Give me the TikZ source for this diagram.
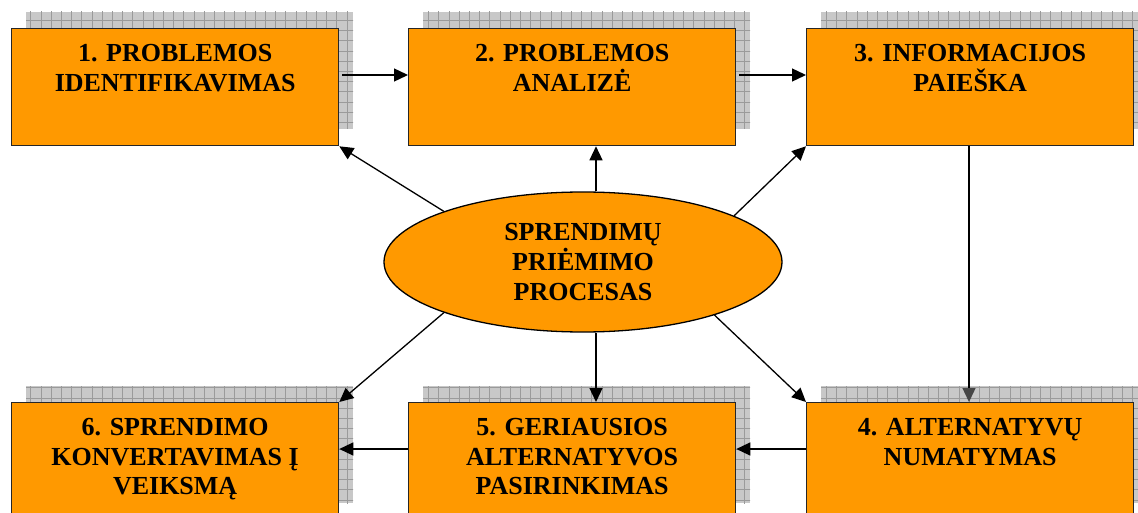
\documentclass[tikz,border=0pt]{standalone}
\usepackage{fontspec}
\setmainfont{Liberation Serif}
\usetikzlibrary{arrows.meta,shapes.geometric}
\definecolor{boxorange}{HTML}{FF9900}
\definecolor{shadefill}{HTML}{C8C8C8}
\definecolor{shadeline}{HTML}{9A9A9A}
\newcommand\gridshadow[2]{%
  \begin{scope}
    \clip (#1+15,#2-16) rectangle (#1+342,#2+101);
    \fill[shadefill] (#1+15,#2-16) rectangle (#1+342,#2+101);
    \draw[shadeline, line width=0.6pt, step=10.2pt] (#1+10,#2-20) grid (#1+350,#2+110);
  \end{scope}}
\begin{document}
\begin{tikzpicture}[x=1pt,y=-1pt,
  box/.style={draw=black!85, line width=1.3pt, fill=boxorange, minimum width=327pt, minimum height=117pt, anchor=north west, inner sep=0pt},
  lbl/.style={font=\bfseries\fontsize{26}{29.5}\selectfont, align=center, anchor=north, inner sep=0pt},
  arr/.style={-{Triangle[length=14pt,width=13pt]}, line width=1.3pt}
]
\clip (0,0) rectangle (1138,513);
\useasboundingbox (0,0) rectangle (1138,513);

% shadows
\gridshadow{11}{28}
\gridshadow{408}{28}
\gridshadow{806}{28}
\gridshadow{11}{402}
\gridshadow{408}{402}
\gridshadow{806}{402}

% boxes
\node[box] (b1) at (11,28) {};
\node[box] (b2) at (408,28) {};
\node[box] (b3) at (806,28) {};
\node[box] (b4) at (806,402) {};
\node[box] (b5) at (408,402) {};
\node[box] (b6) at (11,402) {};

\node[lbl] (t1) at ([yshift=-16.5pt]b1.north) {1. PROBLEMOS\\IDENTIFIKAVIMAS};
\node[lbl] (t2) at ([yshift=-16.5pt]b2.north) {2. PROBLEMOS\\ANALIZĖ};
\node[lbl] (t3) at ([yshift=-16.5pt]b3.north) {3. INFORMACIJOS\\PAIEŠKA};
\node[lbl] (t4) at ([yshift=-16.5pt]b4.north) {4. ALTERNATYVŲ\\NUMATYMAS};
\node[lbl] (t5) at ([yshift=-16.5pt]b5.north) {5. GERIAUSIOS\\ALTERNATYVOS\\PASIRINKIMAS};
\node[lbl] (t6) at ([yshift=-16.5pt]b6.north) {6. SPRENDIMO\\KONVERTAVIMAS Į\\VEIKSMĄ};

% ellipse
\node[ellipse, draw=black, line width=1.3pt, fill=boxorange, minimum width=398pt, minimum height=140pt, inner sep=0pt,
      font=\bfseries\fontsize{26}{30}\selectfont, align=center] (ell) at (583,262) {SPRENDIMŲ\\PRIĖMIMO\\PROCESAS};

% helper coordinates
\coordinate (rowtop) at (0,75);
\coordinate (rowbot) at (0,449);
\coordinate (cx) at (596,0);
\coordinate (dx) at (969,0);

% horizontal arrows
\draw[arr, shorten <=3pt] (b1.east |- rowtop) -- (b2.west |- rowtop);
\draw[arr, shorten <=3pt] (b2.east |- rowtop) -- (b3.west |- rowtop);
\draw[arr] (b4.west |- rowbot) -- (b5.east |- rowbot);
\draw[arr] (b5.west |- rowbot) -- (b6.east |- rowbot);
% vertical 3 -> 4
\draw[-{Triangle[length=14pt,width=13pt,color=black!72]}, line width=1.3pt] (b3.south -| dx) -- (b4.north -| dx);

% from ellipse
\draw[arr] (ell.160) -- (b1.south east);
\draw[arr] (ell.north -| cx) -- (b2.south -| cx);
\draw[arr] (ell.17) -- (b3.south west);
\draw[arr] (ell.200) -- (b6.north east);
\draw[arr] (ell.south -| cx) -- (b5.north -| cx);
\draw[arr] (ell.338) -- (b4.north west);
\end{tikzpicture}
\end{document}
